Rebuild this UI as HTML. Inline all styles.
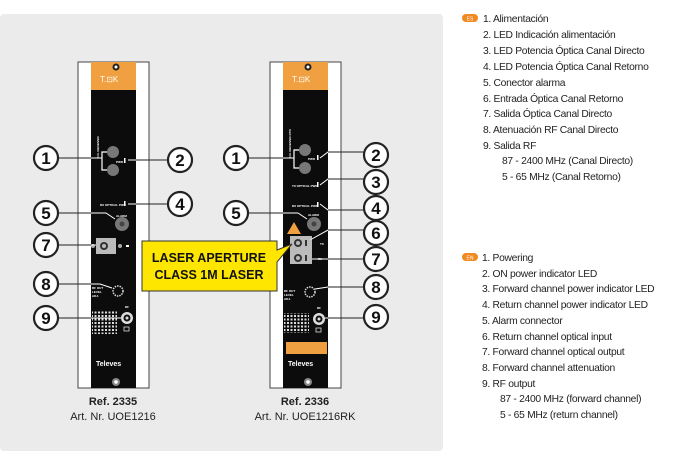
<!DOCTYPE html>
<html><head><meta charset="utf-8"><style>
body{margin:0;background:#fff;width:692px;height:451px;overflow:hidden;font-family:"Liberation Sans",sans-serif}
svg{position:absolute;left:0;top:0}
.t{font-family:"Liberation Sans",sans-serif;font-size:10.3px;fill:#222;letter-spacing:-0.3px}
.n{font-family:"Liberation Sans",sans-serif;font-size:17px;font-weight:bold;fill:#111;text-anchor:middle}
.s{font-family:"Liberation Sans",sans-serif;font-size:3px;fill:#fff;font-weight:bold}
</style></head><body>
<svg width="692" height="451" viewBox="0 0 692 451">
<rect x="0" y="14" width="443" height="437" rx="4" fill="#ebebeb"/>
<defs>
<g id="mod">
<rect x="0" y="0" width="71" height="326" fill="#fff" stroke="#444" stroke-width="1"/>
<rect x="13" y="0" width="45" height="326" fill="#0c0c0c"/>
<rect x="13" y="0" width="45" height="28" fill="#f0a040"/>
<circle cx="38" cy="5" r="3.5" fill="#222"/><circle cx="38" cy="5" r="1.5" fill="#fff"/>
<text x="22" y="20" font-size="8" fill="#fff" font-family="Liberation Sans">T.⊡K</text>
<circle cx="38" cy="320" r="4" fill="#888"/><circle cx="38" cy="320" r="1.8" fill="#fff"/>
<text x="18" y="304" font-size="7" fill="#fff" font-weight="bold" font-family="Liberation Sans">Televes</text>
</g>
<pattern id="grid" width="3.5" height="3.5" patternUnits="userSpaceOnUse"><rect width="2" height="2" fill="#ddd"/></pattern>
<clipPath id="blk"><rect x="91" y="90" width="45" height="298"/><rect x="283" y="90" width="45" height="298"/></clipPath>
<g id="leaders">
<line x1="58" y1="158" x2="102" y2="158"/>
<line x1="128" y1="160" x2="168" y2="160"/>
<line x1="128" y1="204" x2="168" y2="204"/>
<polyline points="58,213 106,213 115,219"/>
<line x1="58" y1="245" x2="96" y2="245"/>
<polyline points="58,284 100,284 112,288"/>
<line x1="58" y1="318" x2="121" y2="318"/>
<line x1="248" y1="158" x2="294" y2="158"/>
<polyline points="320,158 328,152 364,152"/>
<polyline points="320,185 328,179 364,179"/>
<polyline points="320,204 328,210 364,210"/>
<line x1="248" y1="213" x2="298" y2="213"/><line x1="298" y1="213" x2="307" y2="219"/>
<polyline points="310,240 328,230 364,230"/>
<line x1="312" y1="259" x2="364" y2="259"/>
<polyline points="315,289 328,287 364,287"/>
<line x1="325" y1="318" x2="364" y2="318"/>
</g>
</defs>
<use href="#mod" x="78" y="62"/>
<use href="#mod" x="270" y="62"/>
<!-- module 1 details -->
<text class="s" transform="translate(99,158) rotate(-90)" font-size="5">F.O. RECEIVER</text>
<circle cx="113" cy="152" r="6" fill="#777"/><circle cx="113" cy="170" r="6" fill="#777"/>
<text class="s" x="116" y="163">PWR</text><rect x="124" y="158" width="1.5" height="5" fill="#fff"/>
<text class="s" x="100" y="206">RX OPTICAL PWR</text><rect x="124" y="201" width="1.5" height="5" fill="#fff"/>
<text class="s" x="116" y="217">ALARM</text>
<circle cx="122" cy="224" r="7" fill="#777"/><circle cx="122" cy="224" r="2.5" fill="#444"/>
<rect x="96" y="238" width="20" height="16" fill="#bbb"/><circle cx="104" cy="246" r="4" fill="#333"/><circle cx="104" cy="246" r="2" fill="#bbb"/>
<circle cx="93" cy="246" r="2" fill="#aaa"/><circle cx="120" cy="246" r="2" fill="#aaa"/><rect x="126" y="245" width="3" height="2" fill="#fff"/>
<text class="s" x="92" y="289">RF OUT</text><text class="s" x="92" y="293">LEVEL</text><text class="s" x="92" y="297">ADJ.</text>
<circle cx="118" cy="291" r="5" fill="none" stroke="#ddd" stroke-width="1.5" stroke-dasharray="1.5 1"/>
<circle cx="127" cy="318" r="6" fill="#ddd"/><circle cx="127" cy="318" r="3.5" fill="#111"/><circle cx="127" cy="318" r="1.5" fill="#ddd"/>
<text class="s" x="125" y="308">RF</text><rect x="124" y="327" width="5" height="4" fill="none" stroke="#ddd" stroke-width="0.8"/>
<rect x="92" y="311" width="25" height="23" fill="url(#grid)"/>
<!-- module 2 details -->
<text class="s" transform="translate(291,158) rotate(-90)" font-size="5">F.O. RECEIVER RTN</text>
<circle cx="305" cy="150" r="6" fill="#777"/><circle cx="305" cy="168" r="6" fill="#777"/>
<text class="s" x="308" y="160">PWR</text><rect x="317" y="155" width="1.5" height="5" fill="#fff"/>
<text class="s" x="292" y="187">TX OPTICAL PWR</text><rect x="317" y="182" width="1.5" height="5" fill="#fff"/>
<text class="s" x="292" y="207">RX OPTICAL PWR</text><rect x="317" y="202" width="1.5" height="5" fill="#fff"/>
<text class="s" x="308" y="216">ALARM</text>
<circle cx="314" cy="224" r="7" fill="#777"/><circle cx="314" cy="224" r="2.5" fill="#444"/>
<polygon points="294,222 301,234 287,234" fill="#f0a040"/>
<rect x="290" y="236" width="22" height="28" fill="#bbb"/>
<circle cx="298" cy="243" r="4" fill="#333"/><circle cx="298" cy="243" r="2" fill="#bbb"/>
<circle cx="298" cy="258" r="4" fill="#333"/><circle cx="298" cy="258" r="2" fill="#bbb"/>
<rect x="305" y="240" width="2" height="6" fill="#333"/><rect x="305" y="255" width="2" height="6" fill="#333"/>
<text class="s" x="320" y="245">TX</text><text class="s" x="318" y="260">RX</text>
<text class="s" x="284" y="292">RF OUT</text><text class="s" x="284" y="296">LEVEL</text><text class="s" x="284" y="300">ADJ.</text>
<circle cx="310" cy="292" r="5" fill="none" stroke="#ddd" stroke-width="1.5" stroke-dasharray="1.5 1"/>
<circle cx="319" cy="319" r="6" fill="#ddd"/><circle cx="319" cy="319" r="3.5" fill="#111"/><circle cx="319" cy="319" r="1.5" fill="#ddd"/>
<text class="s" x="317" y="309">RF</text><rect x="316" y="328" width="5" height="4" fill="none" stroke="#ddd" stroke-width="0.8"/>
<rect x="284" y="313" width="25" height="20" fill="url(#grid)"/>
<rect x="286" y="342" width="41" height="12" fill="#f0a040"/>
<!-- leader lines -->
<g stroke="#fff" stroke-width="1.2" fill="none">
<polyline points="107,152 102,152 102,170 107,170"/><polyline points="299,150 294,150 294,168 299,168"/>
</g>
<use href="#leaders" stroke="#222" stroke-width="1" fill="none"/>
<use href="#leaders" stroke="#fff" stroke-width="1" fill="none" clip-path="url(#blk)"/>
<!-- laser box -->
<polygon points="142,241 277,241 277,250 292,244 277,262 277,291 142,291" fill="#ffe600" stroke="#333" stroke-width="1"/>
<text x="209" y="262" text-anchor="middle" font-size="12.5" font-weight="bold" fill="#111" font-family="Liberation Sans">LASER APERTURE</text>
<text x="209" y="279" text-anchor="middle" font-size="12.5" font-weight="bold" fill="#111" font-family="Liberation Sans">CLASS 1M LASER</text>
<!-- numbered circles -->
<g fill="#fff" stroke="#222" stroke-width="2.2">
<circle cx="46" cy="158" r="12"/><circle cx="180" cy="160" r="12"/><circle cx="180" cy="204" r="12"/>
<circle cx="46" cy="213" r="12"/><circle cx="46" cy="245" r="12"/><circle cx="46" cy="284" r="12"/><circle cx="46" cy="318" r="12"/>
<circle cx="236" cy="158" r="12"/><circle cx="236" cy="213" r="12"/>
<circle cx="376" cy="155" r="12"/><circle cx="376" cy="182" r="12"/><circle cx="376" cy="208" r="12"/><circle cx="376" cy="233" r="12"/>
<circle cx="376" cy="259" r="12"/><circle cx="376" cy="287" r="12"/><circle cx="376" cy="317" r="12"/>
</g>
<g class="n">
<text class="n" x="46" y="164">1</text><text class="n" x="180" y="166">2</text><text class="n" x="180" y="210">4</text>
<text class="n" x="46" y="219">5</text><text class="n" x="46" y="251">7</text><text class="n" x="46" y="290">8</text><text class="n" x="46" y="324">9</text>
<text class="n" x="236" y="164">1</text><text class="n" x="236" y="219">5</text>
<text class="n" x="376" y="161">2</text><text class="n" x="376" y="188">3</text><text class="n" x="376" y="214">4</text><text class="n" x="376" y="239">6</text>
<text class="n" x="376" y="265">7</text><text class="n" x="376" y="293">8</text><text class="n" x="376" y="323">9</text>
</g>
<text x="113" y="405" text-anchor="middle" font-size="11" font-weight="bold" fill="#222" font-family="Liberation Sans">Ref. 2335</text>
<text x="113" y="420" text-anchor="middle" font-size="11" fill="#222" font-family="Liberation Sans">Art. Nr. UOE1216</text>
<text x="305" y="405" text-anchor="middle" font-size="11" font-weight="bold" fill="#222" font-family="Liberation Sans">Ref. 2336</text>
<text x="305" y="420" text-anchor="middle" font-size="11" fill="#222" font-family="Liberation Sans">Art. Nr. UOE1216RK</text>
<!-- ES list -->
<rect x="462" y="14" width="16" height="8" rx="4" fill="#f08a20"/><text x="470" y="20.5" text-anchor="middle" font-size="5" fill="#fff" font-family="Liberation Sans">ES</text>
<g class="t">
<text class="t" x="483" y="22">1. Alimentación</text>
<text class="t" x="483" y="38">2. LED Indicación alimentación</text>
<text class="t" x="483" y="54">3. LED Potencia Óptica Canal Directo</text>
<text class="t" x="483" y="70">4. LED Potencia Óptica Canal Retorno</text>
<text class="t" x="483" y="86">5. Conector alarma</text>
<text class="t" x="483" y="102">6. Entrada Óptica Canal Retorno</text>
<text class="t" x="483" y="117">7. Salida Óptica Canal Directo</text>
<text class="t" x="483" y="133">8. Atenuación RF Canal Directo</text>
<text class="t" x="483" y="149">9. Salida RF</text>
<text class="t" x="502" y="164">87 - 2400 MHz (Canal Directo)</text>
<text class="t" x="502" y="180">5 - 65 MHz (Canal Retorno)</text>
</g>
<!-- EN list -->
<rect x="462" y="253" width="16" height="8" rx="4" fill="#f08a20"/><text x="470" y="259.5" text-anchor="middle" font-size="5" fill="#fff" font-family="Liberation Sans">EN</text>
<g class="t">
<text class="t" x="482" y="261">1. Powering</text>
<text class="t" x="482" y="277">2. ON power indicator LED</text>
<text class="t" x="482" y="292">3. Forward channel power indicator LED</text>
<text class="t" x="482" y="308">4. Return channel power indicator LED</text>
<text class="t" x="482" y="324">5. Alarm connector</text>
<text class="t" x="482" y="340">6. Return channel optical input</text>
<text class="t" x="482" y="355">7. Forward channel optical output</text>
<text class="t" x="482" y="371">8. Forward channel attenuation</text>
<text class="t" x="482" y="387">9. RF output</text>
<text class="t" x="500" y="402">87 - 2400 MHz (forward channel)</text>
<text class="t" x="500" y="418">5 - 65 MHz (return channel)</text>
</g>
</svg>
</body></html>
